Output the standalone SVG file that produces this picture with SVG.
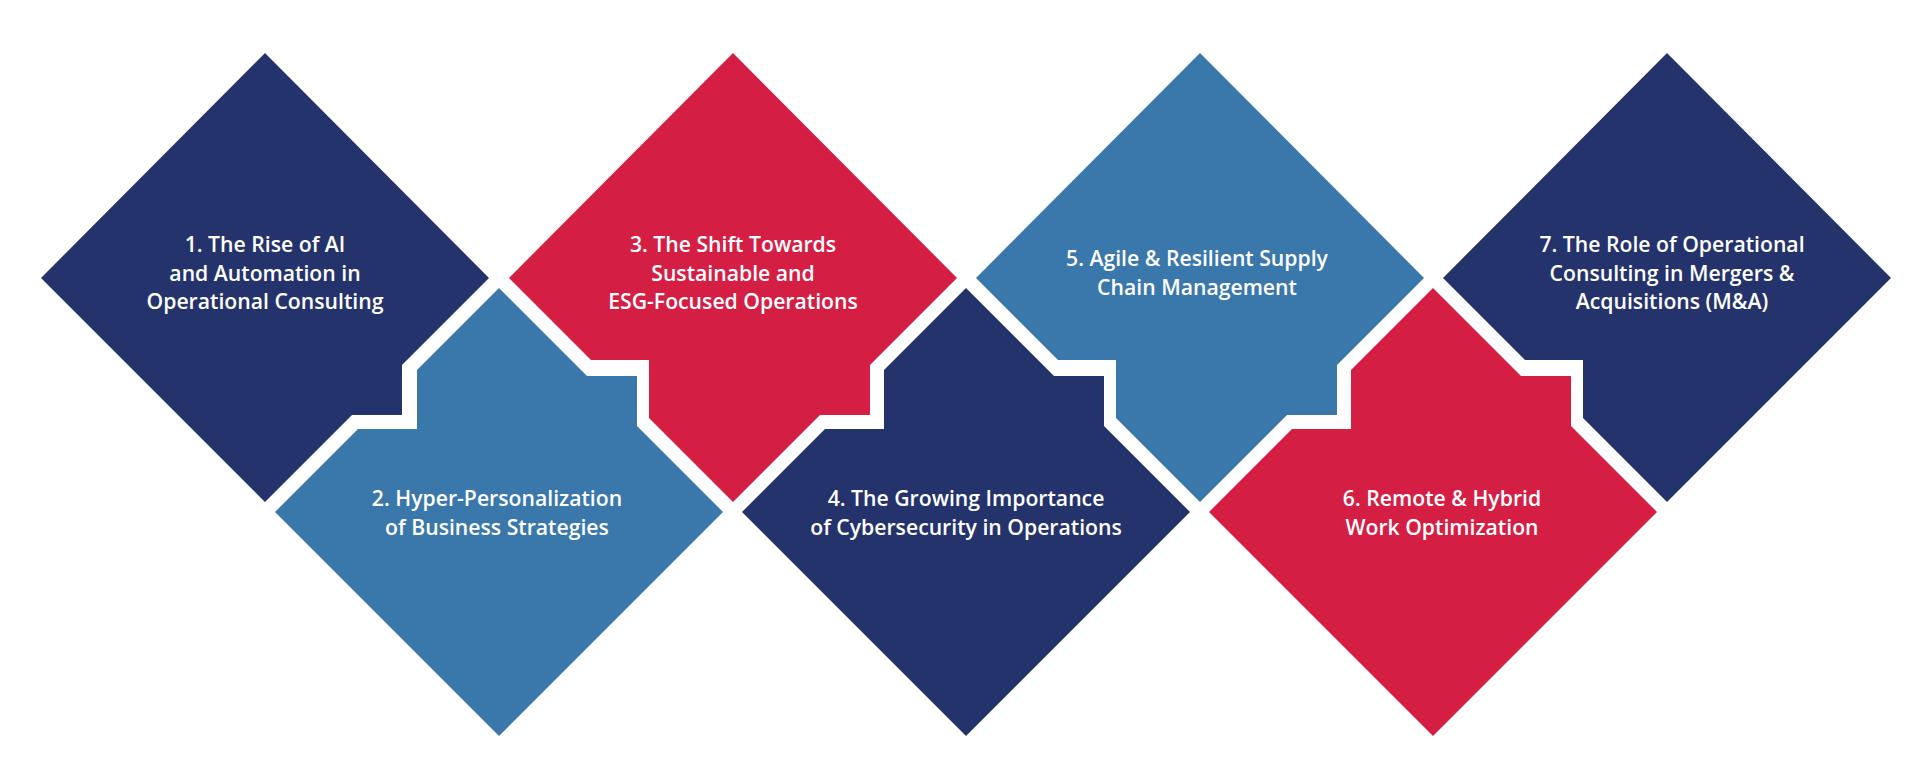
<svg xmlns="http://www.w3.org/2000/svg" width="1920" height="758" viewBox="0 0 1920 758">
<style>
.navy{fill:#25336C}.blue{fill:#3A77AB}.red{fill:#D51E44}
text{font-family:"Open Sans","Noto Sans",sans-serif;font-size:21.2px;font-weight:600;fill:#fff;text-anchor:middle}
</style>
<rect width="1920" height="758" fill="#fff"/>
<g id="n1"><polygon class="navy" points="265,53 489,278 402,365 402,415 352,415 265,502 41,278"/>
<text x="265" y="252">1. The Rise of AI</text><text x="265" y="281">and Automation in</text><text x="265" y="309">Operational Consulting</text></g>
<g id="n2"><polygon class="blue" points="499,288 587,376 637,376 637,426 723,512 499,736 275,512 358,429 417,429 417,370"/>
<text x="497" y="506">2. Hyper-Personalization</text><text x="497" y="535">of Business Strategies</text></g>
<g id="n3"><polygon class="red" points="733,53 957,278 870,365 870,415 820,415 733,502 649,418 649,360 591,360 509,278"/>
<text x="733" y="252">3. The Shift Towards</text><text x="733" y="281">Sustainable and</text><text x="733" y="309">ESG-Focused Operations</text></g>
<g id="n4"><polygon class="navy" points="966,288 1054,376 1104,376 1104,426 1190,512 966,736 742,512 825,429 884,429 884,370"/>
<text x="966" y="506">4. The Growing Importance</text><text x="966" y="535">of Cybersecurity in Operations</text></g>
<g id="n5"><polygon class="blue" points="1200,53 1424,278 1337,365 1337,415 1287,415 1200,502 1116,418 1116,360 1058,360 976,278"/>
<text x="1197" y="266">5. Agile &amp; Resilient Supply</text><text x="1197" y="295">Chain Management</text></g>
<g id="n6"><polygon class="red" points="1433,288 1521,376 1571,376 1571,426 1657,512 1433,736 1209,512 1292,429 1351,429 1351,370"/>
<text x="1442" y="506">6. Remote &amp; Hybrid</text><text x="1442" y="535">Work Optimization</text></g>
<g id="n7"><polygon class="navy" points="1667,53 1891,278 1667,502 1583,418 1583,360 1525,360 1443,278"/>
<text x="1672" y="252">7. The Role of Operational</text><text x="1672" y="281">Consulting in Mergers &amp;</text><text x="1672" y="309">Acquisitions (M&amp;A)</text></g>
<g id="connectors"/>
</svg>
